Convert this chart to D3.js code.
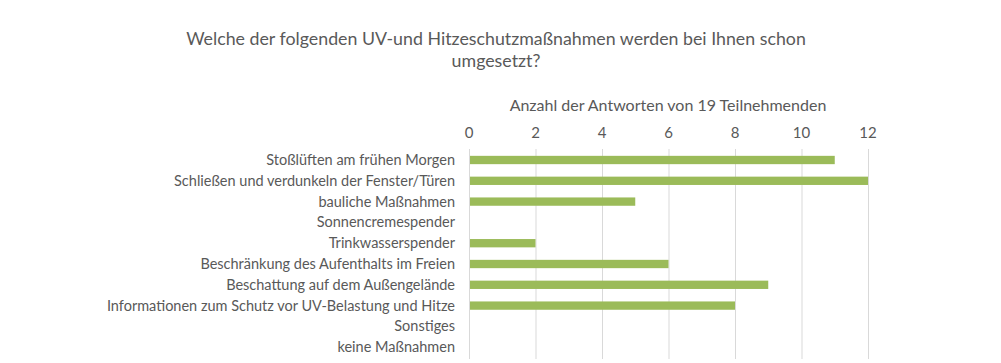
<!DOCTYPE html>
<html>
<head>
<meta charset="utf-8">
<script src="https://cdn.jsdelivr.net/npm/d3@7"></script>
<style>
body{margin:0;background:#fff}
text{font-family:Lato,"Open Sans",sans-serif;fill:#595959}
</style>
</head>
<body>
<svg></svg>
<script>
var categories = ["Stoßlüften am frühen Morgen","Schließen und verdunkeln der Fenster/Türen","bauliche Maßnahmen","Sonnencremespender","Trinkwasserspender","Beschränkung des Aufenthalts im Freien","Beschattung auf dem Außengelände","Informationen zum Schutz vor UV-Belastung und Hitze","Sonstiges","keine Maßnahmen"]
var values = [11,12,5,0,2,6,9,8,0,0]
var ticks = [0,2,4,6,8,10,12]
var titleLines = ["Welche der folgenden UV-und Hitzeschutzmaßnahmen werden bei Ihnen schon","umgesetzt?"]
var axisTitle = "Anzahl der Antworten von 19 Teilnehmenden"

var screen = {width:1001, height:363}
var svg = d3.select("svg").attr("width",screen.width).attr("height",screen.height)

var xscale = d3.scaleLinear().domain([0,12]).range([469,868])
var yscale = d3.scaleBand().domain(categories).range([149.6,357.6]).paddingInner(0.6).paddingOuter(0.3)

// gridlines
svg.selectAll("line.grid").data(ticks.slice(1)).enter().append("line")
  .attr("class","grid")
  .attr("x1",function(d){return xscale(d)+0.5}).attr("x2",function(d){return xscale(d)+0.5})
  .attr("y1",149).attr("y2",359)
  .attr("stroke","#d9d9d9").attr("stroke-width",1)

// bars
svg.selectAll("rect").data(values).enter().append("rect")
  .attr("x",xscale(0))
  .attr("y",function(d,i){return yscale(categories[i])})
  .attr("width",function(d){return xscale(d)-xscale(0)})
  .attr("height",yscale.bandwidth())
  .attr("fill","#9bbb59")

// vertical axis line
svg.append("line").attr("x1",xscale(0)+0.5).attr("x2",xscale(0)+0.5)
  .attr("y1",149).attr("y2",359).attr("stroke","#d9d9d9")

// tick labels
svg.selectAll("text.tick").data(ticks).enter().append("text")
  .attr("class","tick")
  .attr("x",function(d){return xscale(d)}).attr("y",138)
  .attr("text-anchor","middle").style("font-size","15px")
  .text(function(d){return d})

// category labels
svg.selectAll("text.cat").data(categories).enter().append("text")
  .attr("class","cat")
  .attr("x",455).attr("y",function(d){return yscale(d)+yscale.bandwidth()/2})
  .attr("dy","0.35em").attr("text-anchor","end").style("font-size","14.5px")
  .text(function(d){return d})

// axis title
svg.append("text").attr("x",668).attr("y",111).attr("text-anchor","middle")
  .style("font-size","16px").text(axisTitle)

// chart title
svg.selectAll("text.title").data(titleLines).enter().append("text")
  .attr("class","title")
  .attr("x",496).attr("y",function(d,i){return 45+i*22})
  .attr("text-anchor","middle").style("font-size","17.8px")
  .text(function(d){return d})
</script>
</body>
</html>
